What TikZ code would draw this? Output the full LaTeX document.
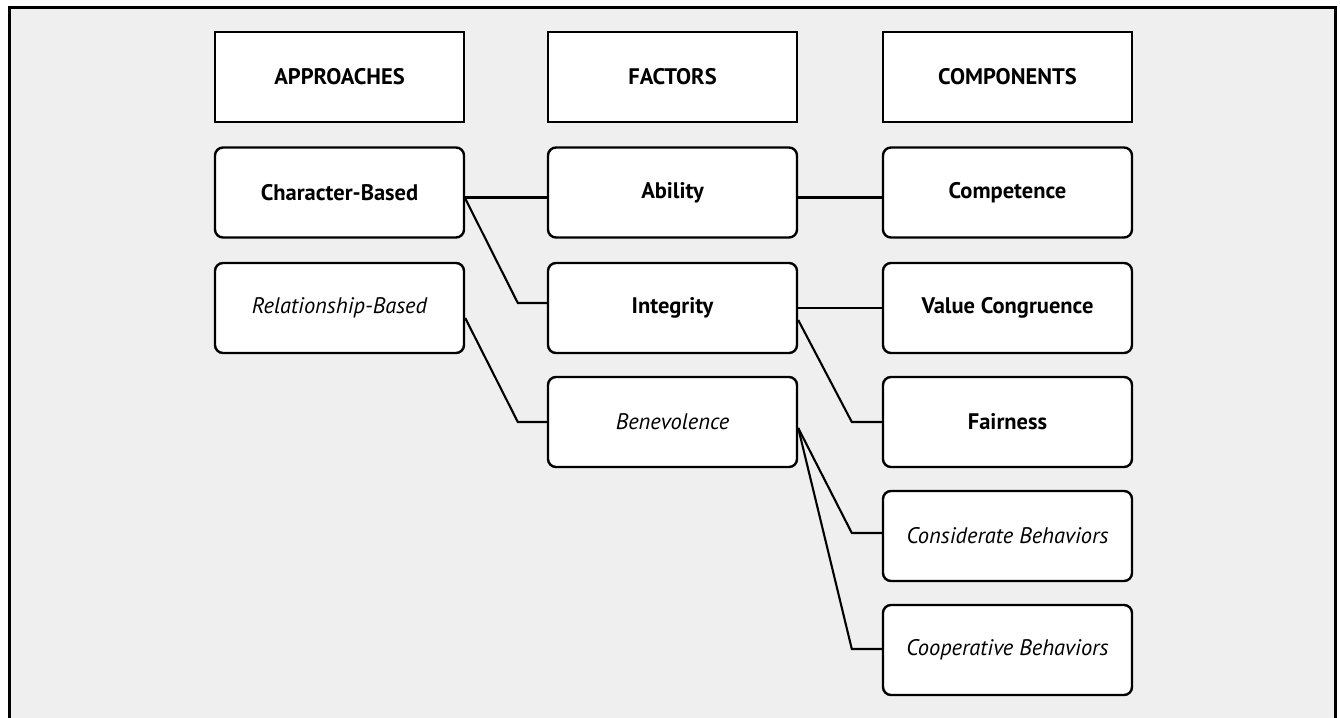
\documentclass[tikz,border=0pt]{standalone}
\usepackage{fontspec}
\setmainfont{PT Sans}
\usetikzlibrary{calc}
\definecolor{bg}{HTML}{EFEFEF}
\begin{document}
\begin{tikzpicture}[x=1pt,y=-1pt,
 box/.style={draw, line width=2.4pt, fill=white, minimum width=249pt, minimum height=90pt, inner sep=0pt, font=\fontsize{22.5}{27}\selectfont},
 hbox/.style={box, font=\fontsize{22.5}{27}\selectfont\bfseries},
 rbox/.style={box, rounded corners=8pt},
 bbox/.style={rbox, font=\fontsize{22.5}{27}\selectfont\bfseries},
 ibox/.style={rbox, font=\fontsize{22.5}{27}\selectfont\itshape},
 conn/.style={line width=2.1pt}]
\useasboundingbox (0,0) rectangle (1340,717);
\fill[white] (0,0) rectangle (1340,717);
\fill[bg] (9,8) rectangle (1335,720);
\draw[line width=3pt] (9,725) -- (9,8) -- (1335,8) -- (1335,725);

\node[hbox] (ha) at (339.5,77) {APPROACHES};
\node[hbox] (hf) at (672.5,77) {FACTORS};
\node[hbox] (hc) at (1007.5,77) {COMPONENTS};

\node[bbox] (cb) at (339.5,192.5) {Character-Based};
\node[ibox] (rb) at (339.5,308) {Relationship-Based};

\node[bbox] (ab) at (672.5,192.5) {Ability};
\node[bbox] (in) at (672.5,308) {Integrity};
\node[ibox] (be) at (672.5,422) {Benevolence};

\node[bbox] (co) at (1007.5,192.5) {Competence};
\node[bbox] (vc) at (1007.5,308) {Value Congruence};
\node[bbox] (fa) at (1007.5,422) {Fairness};
\node[ibox] (cn) at (1007.5,536) {Considerate Behaviors};
\node[ibox] (cp) at (1007.5,650) {Cooperative Behaviors};

\draw[conn] ($(cb.east)+(0,5)$) -- ($(ab.west)+(0,5)$);
\draw[conn] ($(cb.east)+(0,6)$) -- ($(in.west)+(-29,-5)$) -- ($(in.west)+(0,-5)$);
\draw[conn] ($(rb.east)+(0,10)$) -- ($(be.west)+(-29,0)$) -- (be.west);
\draw[conn] ($(ab.east)+(0,5)$) -- ($(co.west)+(0,5)$);
\draw[conn] (in.east) -- (vc.west);
\draw[conn] ($(in.east)+(0,12)$) -- ($(fa.west)+(-30,0)$) -- (fa.west);
\draw[conn] ($(be.east)+(0,6)$) -- ($(cn.west)+(-30,-3)$) -- ($(cn.west)+(0,-3)$);
\draw[conn] ($(be.east)+(0,6)$) -- ($(cp.west)+(-30,-1)$) -- ($(cp.west)+(0,-1)$);
\end{tikzpicture}
\end{document}
